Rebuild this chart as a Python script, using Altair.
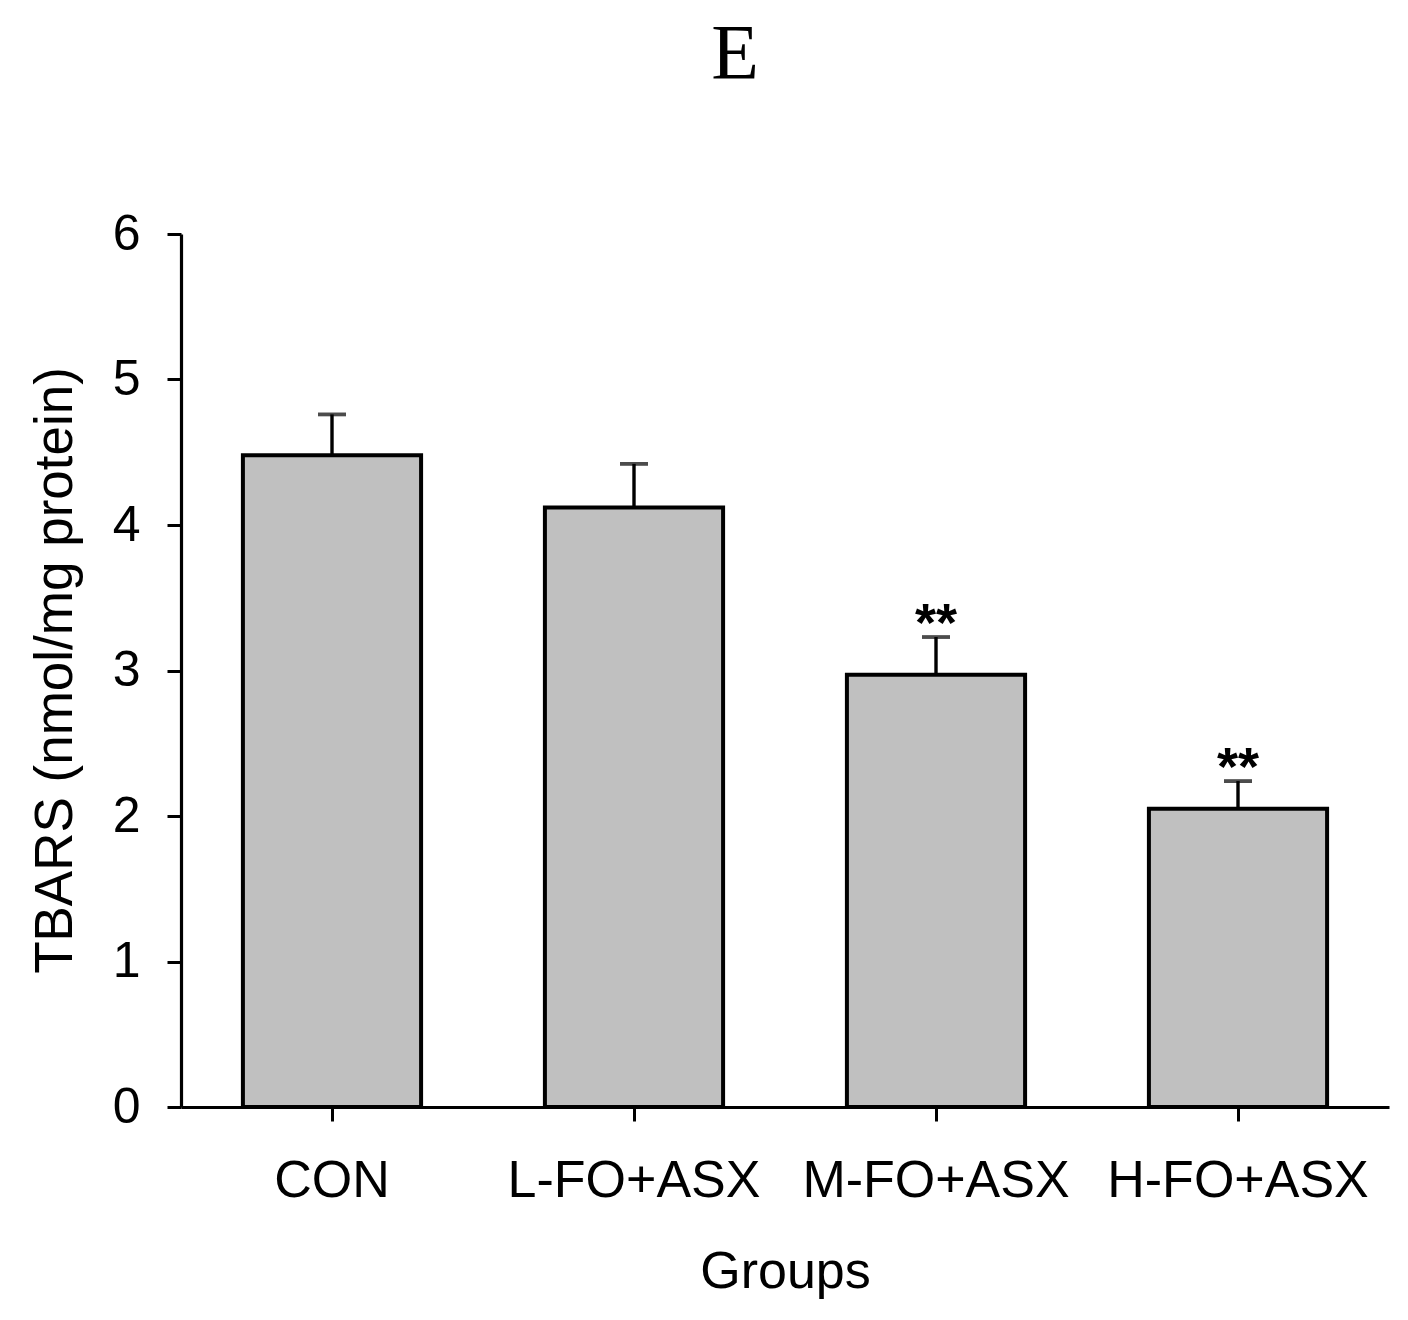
import pandas as pd
import altair as alt

OUTPUT_FILE = "out.html"

GROUPS = ["CON", "L-FO+ASX", "M-FO+ASX", "H-FO+ASX"]
MEANS  = [4.48, 4.12, 2.97, 2.05]
ERRORS = [0.28, 0.30, 0.26, 0.19]
SIGNIF = ["", "", "**", "**"]

BAR_GRAY = "#C0C0C0"
BLACK    = "#000000"
SANS     = "Liberation Sans"
SERIF    = "Liberation Serif"

df = pd.DataFrame({
    "Group": GROUPS,
    "Mean": MEANS,
    "Err": ERRORS,
    "Sig": SIGNIF,
})
df["Top"] = df["Mean"] + df["Err"]

x_enc = alt.X(
    "Group:N",
    sort=GROUPS,
    scale=alt.Scale(paddingInner=0.41, paddingOuter=0.205),
    axis=alt.Axis(
        title="Groups", labelAngle=0, labelFont=SANS, labelFontSize=52,
        labelColor=BLACK, labelBaseline="alphabetic", labelPadding=75,
        labelLimit=400,
        tickSize=14, tickWidth=3, tickColor=BLACK,
        domainWidth=3.2, domainColor=BLACK,
        titleFont=SANS, titleFontSize=52, titleFontWeight="normal",
        titleColor=BLACK, titleBaseline="alphabetic", titleX=604, titleY=180,
    ),
)

y_scale = alt.Scale(domain=[0, 6], nice=False)
y_axis = alt.Axis(
    values=[0, 1, 2, 3, 4, 5, 6], format="d", grid=False,
    title="TBARS (nmol/mg protein)",
    labelFont=SANS, labelFontSize=50, labelColor=BLACK, labelPadding=27,
    tickSize=14, tickWidth=3, tickColor=BLACK,
    domainWidth=3.2, domainColor=BLACK,
    titleFont=SANS, titleFontSize=53, titleFontWeight="normal",
    titleColor=BLACK, titleBaseline="alphabetic", titleX=-110, titleY=436,
)

base = alt.Chart(df).encode(x=x_enc)

bars = base.mark_bar(fill=BAR_GRAY, stroke=BLACK, strokeWidth=4).encode(
    y=alt.Y("Mean:Q", scale=y_scale, axis=y_axis),
)

stems = base.mark_rule(color=BLACK, strokeWidth=3.4).encode(
    y=alt.Y("Mean:Q", scale=y_scale),
    y2="Top:Q",
)

caps = base.mark_tick(color=BLACK, size=28, thickness=3.8).encode(
    y=alt.Y("Top:Q", scale=y_scale),
)

stars = base.mark_text(
    font=SANS, fontSize=54, fontWeight="bold", color=BLACK,
    baseline="alphabetic", dy=4,
).encode(
    y=alt.Y("Top:Q", scale=y_scale),
    text="Sig:N",
)

chart = (
    alt.layer(bars, stems, caps, stars)
    .properties(
        width=1208, height=873,
        autosize=alt.AutoSizeParams(type="none"),
        padding={"left": 173, "top": 226, "right": 11, "bottom": 200},
        title=alt.TitleParams(
            "E", font=SERIF, fontSize=78, fontWeight="normal", color=BLACK,
            anchor="middle", frame="group", baseline="alphabetic",
            offset=53, dx=-50,
        ),
    )
    .configure_view(strokeWidth=0)
)

chart.save(OUTPUT_FILE, embed_options={"renderer": "svg", "actions": False})
